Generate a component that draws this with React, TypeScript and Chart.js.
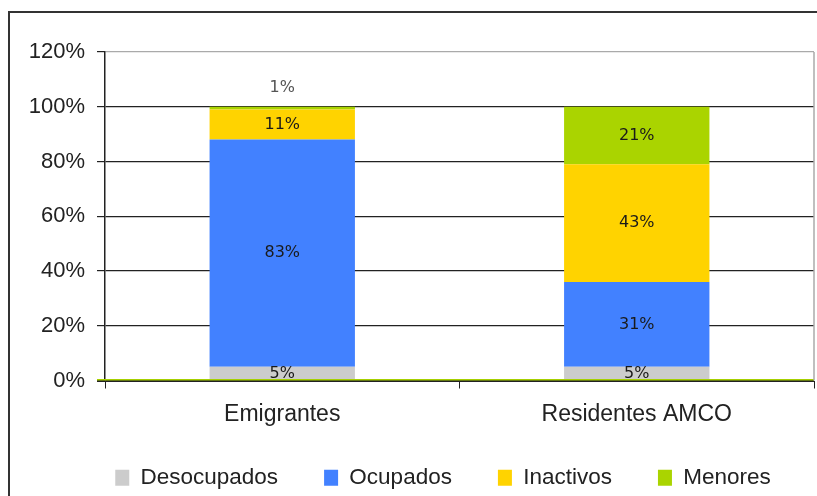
import React, { useEffect, useRef } from "react";
import { Chart, registerables } from "chart.js";

Chart.register(...registerables);

const categories = ["Emigrantes", "Residentes AMCO"];
const seriesNames = ["Desocupados", "Ocupados", "Inactivos", "Menores"];
const desocupados = [5, 5];
const ocupados = [83, 31];
const inactivos = [11, 43];
const menores = [1, 21];
const yTicks = [0, 20, 40, 60, 80, 100, 120];
const seriesColors = ["#cccccc", "#4281ff", "#ffd300", "#aad400"];

const FONT = '"Liberation Sans", Arial, sans-serif';

const labelPlugin = {
  id: "segLabels",
  afterLayout(chart: any) {
    // let the category labels extend below the axis box
    const x = chart.scales.x;
    if (x) x.bottom = chart.height;
    // move the legend row to the right, as in the reference
    if (chart.legend) {
      chart.legend.left += 36;
      chart.legend.right += 36;
    }
  },
  afterDatasetsDraw(chart: any) {
    const ctx = chart.ctx;
    const area = chart.chartArea;
    // baseline: dark axis line with green line above
    ctx.save();
    ctx.lineWidth = 1.6;
    ctx.strokeStyle = "#222";
    ctx.beginPath();
    ctx.moveTo(area.left - 8, area.bottom + 0.8);
    ctx.lineTo(area.right, area.bottom + 0.8);
    ctx.stroke();
    ctx.strokeStyle = "#a6d000";
    ctx.lineWidth = 1.6;
    ctx.beginPath();
    ctx.moveTo(area.left - 8, area.bottom - 0.8);
    ctx.lineTo(area.right, area.bottom - 0.8);
    ctx.stroke();
    // right plot border
    ctx.strokeStyle = "#aaaaaa";
    ctx.lineWidth = 1.5;
    ctx.beginPath();
    ctx.moveTo(area.right, area.top);
    ctx.lineTo(area.right, area.bottom);
    ctx.stroke();

    ctx.font = '16px "DejaVu Sans", sans-serif';
    ctx.textAlign = "center";
    ctx.textBaseline = "middle";
    chart.data.datasets.forEach((ds: any, di: number) => {
      const meta = chart.getDatasetMeta(di);
      meta.data.forEach((el: any, i: number) => {
        const v = ds.data[i];
        const top = Math.min(el.y, el.base);
        const h = Math.abs(el.base - el.y);
        if (h >= 12) {
          ctx.fillStyle = "#1a1a1a";
          ctx.fillText(v + "%", el.x, (el.y + el.base) / 2);
        } else {
          ctx.fillStyle = "#555";
          ctx.fillText(v + "%", el.x, top - 19);
        }
      });
    });
    ctx.restore();
  },
};

export default function App() {
  const ref = useRef<HTMLCanvasElement>(null);
  useEffect(() => {
    if (!ref.current) return;
    const values = [desocupados, ocupados, inactivos, menores];
    const chart = new Chart(ref.current, {
      type: "bar",
      data: {
        labels: categories,
        datasets: seriesNames.map((name, k) => ({
          label: name,
          data: values[k],
          backgroundColor: seriesColors[k],
          borderWidth: 0,
          categoryPercentage: 1,
          barPercentage: 0.41,
        })),
      },
      options: {
        animation: false,
        responsive: false,
        maintainAspectRatio: false,
        layout: { padding: { top: 52, right: 3, left: 0, bottom: -3 } },
        plugins: {
          tooltip: { enabled: false },
          legend: {
            position: "bottom",
            labels: {
              boxWidth: 14,
              boxHeight: 16,
              padding: 46,
              color: "#222",
              font: { family: FONT, size: 22.5 },
            },
          },
        },
        scales: {
          x: {
            stacked: true,
            grid: {
              display: true,
              drawOnChartArea: false,
              drawTicks: true,
              tickLength: 8,
              color: "#222",
              offset: true,
            },
            border: { display: false },
            ticks: {
              padding: 12,
              color: "#222",
              font: { family: FONT, size: 23 },
            },
            afterFit(scale: any) {
              scale.height = 40;
            },
          },
          y: {
            stacked: true,
            min: 0,
            max: 120,
            afterBuildTicks(scale: any) {
              scale.ticks = yTicks.map((v) => ({ value: v }));
            },
            grid: {
              color: (c: any) => (c.tick && c.tick.value === 120 ? "#aaaaaa" : "#222"),
              tickColor: "#222",
              tickLength: 8,
              lineWidth: 1.2,
            },
            border: { display: true, color: "#222", width: 1.5 },
            ticks: {
              padding: 12,
              color: "#222",
              font: { family: FONT, size: 22 },
              callback: (v: any) => v + "%",
            },
            afterFit(scale: any) {
              scale.width = 105;
            },
          },
        },
      },
      plugins: [labelPlugin],
    });
    return () => chart.destroy();
  }, []);

  return (
    <div
      style={{
        position: "fixed",
        left: 0,
        top: 0,
        width: 817,
        height: 496,
        overflow: "hidden",
        background: "#fff",
      }}
    >
      <canvas ref={ref} width={817} height={496} style={{ display: "block" }} />
      <div
        style={{
          position: "absolute",
          left: 8,
          top: 11,
          width: 900,
          height: 600,
          border: "2px solid #333",
          pointerEvents: "none",
        }}
      />
    </div>
  );
}
